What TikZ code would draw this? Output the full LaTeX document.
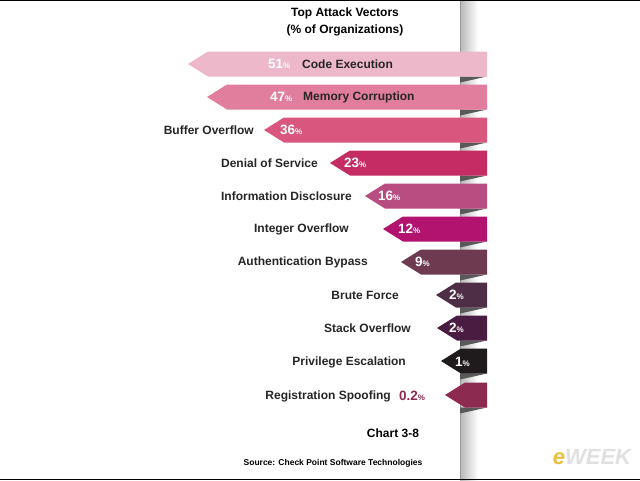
\documentclass[tikz,border=0pt]{standalone}
\usepackage{fontspec}
\setmainfont{Liberation Sans}
\begin{document}
\begin{tikzpicture}[x=1pt,y=-1pt,
  lbl/.style={font=\bfseries\fontsize{12}{12}\selectfont, text=black!85, inner sep=0pt},
  pct/.style={font=\bfseries\fontsize{13.5}{13}\selectfont, text=white, inner sep=0pt},
  ttl/.style={font=\bfseries\fontsize{12}{14}\selectfont, inner sep=0pt, align=center}]
\useasboundingbox (0,0) rectangle (640,480);
\fill[white] (0,0) rectangle (640,480);
\shade[left color=black!28, right color=white] (460,0) rectangle (478,480);
\draw[black!40, line width=0.4pt] (460,0) -- (460,480);
\draw[black, line width=1.5pt] (0,0.5) -- (640,0.5);
\draw[black, line width=1.5pt] (0,479.5) -- (640,479.5);
\node[ttl] (t1) at (345,13) {Top Attack Vectors};
\node[ttl] (t2) at (345,30) {(\% of Organizations)};
\def\h{12.5}
\foreach \tip/\y/\col in {188/64/EDB8C9, 207/97/E17E9D, 264/130/D9577E, 330/163/C42C63, 365/196/B84D82, 383/229/B1136F, 401/262/6E3A50, 436/295/4E2E46, 437/328/4A1C41, 441/361/1F1A1B, 445/395/8C2A50}{
  \definecolor{cc}{HTML}{\col}
  \fill[black!65] (460,\y+\h) -- (487,\y+\h) -- (460,\y+\h+6) -- cycle;
  \fill[cc] (487,\y-\h) -- (\tip+20,\y-\h) -- (\tip,\y) -- (\tip+20,\y+\h) -- (487,\y+\h) -- cycle;
}
\newcommand{\pc}[1]{#1{\fontsize{8}{8}\selectfont\%}}
\node[pct, anchor=west] (p1) at (268,64) {\pc{51}};
\node[lbl, anchor=west] (l1) at (302,64) {Code Execution};
\node[pct, anchor=west] (p2) at (270,97) {\pc{47}};
\node[lbl, anchor=west] (l2) at (303,97) {Memory Corruption};
\node[lbl, anchor=east] (l3) at (254,130) {Buffer Overflow};
\node[pct, anchor=west] (p3) at (280,130) {\pc{36}};
\node[lbl, anchor=east] (l4) at (318,163) {Denial of Service};
\node[pct, anchor=west] (p4) at (344,163) {\pc{23}};
\node[lbl, anchor=east] (l5) at (352,196) {Information Disclosure};
\node[pct, anchor=west] (p5) at (378,196) {\pc{16}};
\node[lbl, anchor=east] (l6) at (349,229) {Integer Overflow};
\node[pct, anchor=west] (p6) at (398,229) {\pc{12}};
\node[lbl, anchor=east] (l7) at (368,262) {Authentication Bypass};
\node[pct, anchor=west] (p7) at (415,262) {\pc{9}};
\node[lbl, anchor=east] (l8) at (399,295) {Brute Force};
\node[pct, anchor=west] (p8) at (449,295) {\pc{2}};
\node[lbl, anchor=east] (l9) at (411,328) {Stack Overflow};
\node[pct, anchor=west] (p9) at (449,328) {\pc{2}};
\node[lbl, anchor=east] (l10) at (406,362) {Privilege Escalation};
\node[pct, anchor=west] (p10) at (455,362) {\pc{1}};
\node[lbl, anchor=east] (l11) at (391,396) {Registration Spoofing};
\node[pct, anchor=west, text={rgb,255:red,140;green,42;blue,80}] (p11) at (399,396) {\pc{0.2}};
\node[lbl, text=black] (ch) at (393,433) {Chart 3-8};
\node[lbl, font=\bfseries\fontsize{8.5}{9}\selectfont, text=black] (src) at (333,463) {Source: Check Point Software Technologies};
\node[inner sep=0pt, font=\bfseries\itshape\fontsize{22}{22}\selectfont, text={rgb,255:red,235;green,190;blue,60}] (e) at (592,457) {e\textcolor{black!12}{WEEK}};
\end{tikzpicture}
\end{document}
